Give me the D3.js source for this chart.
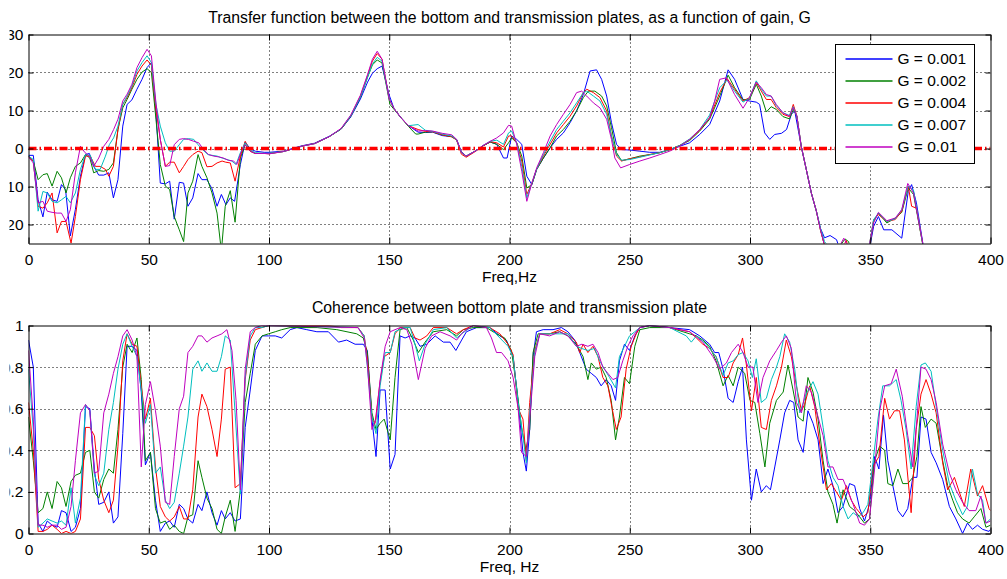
<!DOCTYPE html>
<html>
<head>
<meta charset="utf-8">
<script src="https://cdnjs.cloudflare.com/ajax/libs/d3/7.8.5/d3.min.js"></script>
<style>
    body { margin: 0; background: #fff; }
    svg { display: block; font-family: "Liberation Sans", Arial, Helvetica, sans-serif; }
    .axis text { font-family: "Liberation Sans", Arial, Helvetica, sans-serif; font-size: 15.5px; fill: #000; }
    .axis path, .axis line { stroke: #000; }
</style>
</head>
<body>
<svg id="chart" width="1007" height="579"></svg>
<script>
"use strict";

// ---- data ----------------------------------------------------------------

var freqTicks = [0, 50, 100, 150, 200, 250, 300, 350, 400],
    transferTicks = [-20, -10, 0, 10, 20, 30],
    coherenceTicks = [0, 0.2, 0.4, 0.6, 0.8, 1],
    gainLabels = ['G = 0.001', 'G = 0.002', 'G = 0.004', 'G = 0.007', 'G = 0.01'];

// transfer function (dB) vs frequency (Hz), one array per gain
var tfG001 = [[0,-1.8],[2,-1.8],[4,-13.5],[6,-18],[7.8,-11.5],[9.8,-13.5],[11.9,-13.9],[13.7,-9.5],[15.4,-10.8],[17.4,-23],[19.5,-16],[21.6,-7.3],[23.7,-1.6],[25.3,-1.3],[27.1,-4.7],[29.2,-7],[31.3,-7],[33.4,-6.4],[35.3,-13],[37.2,-8.2],[39.2,5.9],[41,11.6],[43,12.8],[45.1,15.6],[47.2,18.2],[49.3,21.3],[51.1,22.6],[53,9.4],[54.8,-9.1],[56.9,-9.3],[58.7,-8.6],[60.6,-18.6],[62.7,-8.9],[64.5,-9.1],[66.3,-15.2],[68.3,-13],[70.5,-6.6],[72.1,-8.2],[74.2,-8.2],[76.3,-10.6],[78.4,-15.2],[80.2,-12.1],[82.1,-14.8],[83.9,-13],[85.7,-13.9],[88.1,-4.2],[90.1,1.7],[92.2,-0.1],[94.3,-0.7],[98,-1],[100,-1],[106,-0.7],[113.6,0.7],[119,1.4],[125,3.2],[130,5.1],[134,8.3],[138,13],[141,17.5],[143,19.8],[145,21],[147,21.7],[150,14],[152,10.5],[155,8],[158,6],[162,4.3],[165,4.2],[168,4.3],[172,3.4],[176,3.1],[178,2.4],[180,-0.9],[182,-2],[186,-0.6],[189,0.7],[192,1.7],[194.7,1.1],[197.5,-2.5],[199,-2.5],[200.9,3.3],[203,2.4],[205.1,1.1],[207.2,-7.3],[209.3,-9.5],[211.3,-5.5],[214.1,-2.5],[216.9,0.2],[219.6,2.4],[222.4,4.1],[225.2,6.8],[227.9,9.9],[230.7,14.2],[233.5,20.4],[236.2,20.7],[238.3,18.2],[240.4,13.8],[242.4,6.8],[244.5,1.1],[246.6,-0.3],[250,-0.4],[254.2,-0.7],[258.3,-1],[262.5,-1],[266.6,-0.3],[270.8,0.6],[274.9,1.5],[279.1,3.7],[283.2,6.3],[287.4,12.5],[290.9,20.7],[293.6,18.2],[297.1,12.9],[299.8,12.5],[302.6,12.2],[304,11.6],[306.1,4.1],[308.2,2.4],[310.3,3.7],[313.1,4],[315.2,5],[317.2,9],[318.6,9.9],[321.3,0.6],[323.4,-5.5],[325.5,-11.7],[327.6,-16.5],[329.3,-21],[331,-23.5],[333.3,-22.9],[336,-24],[338,-28],[342,-30],[346,-30],[349.5,-27],[351.4,-20.5],[353.4,-17.9],[355.6,-21.4],[359,-21.4],[363.1,-23.6],[365.8,-11.3],[367.2,-9.5],[369.2,-14.3],[372,-25.5],[375,-35],[400,-40]];

var tfG002 = [[0,-2],[2,-3.3],[4,-8.2],[6,-6.9],[7.8,-6.6],[9.8,-9.9],[11.9,-6],[13.7,-7.7],[15.6,-11.7],[17.4,-7.7],[19.5,-4.7],[21.6,-3.8],[23.7,-1.6],[25.5,-2.5],[27.1,-6.4],[29.2,-5.8],[31.3,-6],[33.4,-5.5],[35.3,-3.8],[37.2,5],[39.2,10.7],[41,12.9],[43,15.6],[45.1,18.2],[47.2,20.1],[49.3,21],[51.1,20],[53,7.7],[54.8,-4.2],[56.9,-9.9],[58.7,-10.8],[60.6,-17.9],[62.7,-21.4],[64.5,-24.5],[66.3,-11.7],[68.3,-8.6],[70.5,-1.6],[72.1,-4.7],[74.2,-7.7],[76.3,-11.7],[78.4,-17],[80.2,-27],[81.8,-15.2],[83.9,-11.1],[85.9,-19.4],[88.1,-2.5],[90.1,1],[92.2,-0.7],[94.3,-1.3],[98,-1.3],[100,-1.3],[106,-0.8],[113.6,0.6],[119,1.3],[125,3.1],[130,5.1],[134,8.5],[138,13.5],[141,18.8],[143,22],[145,23.3],[147,22.5],[150.3,11.6],[152,10.3],[155,8],[158,5.8],[161,3.8],[162,3.8],[165,4.3],[168,4.4],[172,3.6],[176,3.1],[178,2.3],[180,-1],[182,-2],[186,-0.6],[189,0.7],[192,1.7],[194.7,1.1],[197.5,-0.3],[199.6,1.5],[200.9,2.8],[203,1.5],[205.1,-2],[207.2,-10.4],[209.3,-9.5],[211.3,-5.5],[214.1,-2.5],[216.9,0.2],[219.6,3.3],[222.4,5],[225.2,7.2],[227.9,9.9],[230.7,13.4],[232.8,15.1],[235.5,15.1],[238.3,13.8],[240.4,11.2],[242.4,5.5],[244.5,-1.1],[246.6,-3.2],[250,-2.7],[254.2,-2],[258.3,-1.6],[262.5,-1.1],[266.6,-0.3],[270.8,0.8],[274.9,2.1],[279.1,4.6],[283.2,7.7],[287.4,13.8],[290.9,19.3],[293.6,16],[297.1,12.8],[299.8,12.9],[302.6,16.9],[304.7,13.8],[306.8,9.6],[308.8,11],[310.9,10.3],[313.7,8.4],[316.4,7.8],[318,10.3],[319.5,8.5],[321.3,0.6],[323.4,-5.5],[325.5,-11.7],[327.6,-16.5],[329.3,-21.4],[331,-25.5],[334,-28],[337,-26],[339.5,-23.8],[341,-24.5],[343,-30],[347,-31],[350,-25],[351.4,-19.2],[353.4,-17],[356.9,-19.6],[360.4,-18.3],[363.1,-16.8],[365.8,-10.4],[368,-12.1],[372,-25.8],[375,-35],[400,-40]];

var tfG004 = [[0,-2],[2,-3.3],[4,-15.2],[6,-15.7],[7.8,-14.3],[9.8,-11.7],[11.9,-22.2],[13.7,-19.2],[15.6,-19.2],[17.7,-24.9],[19.5,-17.9],[21.6,-8.2],[23.7,-2],[25.7,-2],[27.8,-4.7],[29.8,-4.7],[32,-5.5],[33.4,-7.3],[35.3,-4.7],[37.2,5],[39.2,11.6],[41,13.4],[43,16],[45.1,19.5],[47.2,21.7],[49.3,23.3],[51.1,21.9],[53,10.3],[54.8,2.4],[56.9,-4.7],[58.7,-3.6],[60.6,-3.6],[62.7,-6.4],[64.5,-4.7],[66.3,-2.9],[68.3,-1.6],[70.5,-0.7],[72.1,-1.1],[74.2,-4.8],[76.3,-4.7],[78.4,-3.8],[80.5,-3.3],[82,-3.6],[83.9,-3.8],[85.9,-8.6],[88.1,-2],[90.1,1.9],[92.2,-0.7],[94.3,-1.3],[98,-1.3],[100,-1.4],[106,-0.8],[113.6,0.6],[119,1.3],[125,3.1],[130,5.2],[134,8.6],[138,13.8],[141,19.2],[143,23],[145,25],[147,23.5],[150,13],[152,10.5],[155,8],[158,6],[162,5],[165,4.5],[168,4.4],[172,3.6],[176,3.1],[178,2.2],[180,-1.5],[182,-2.3],[186,-0.7],[189,0.7],[192,1.8],[194.7,1.5],[197.5,0.4],[199.6,3.3],[200.9,3.3],[203,1.5],[205.1,-3.3],[207.2,-12.1],[209.3,-9.1],[211.3,-5.4],[214.1,-2],[216.9,1.1],[219.6,4.1],[222.4,6.3],[225.2,8.5],[227.9,11.2],[230.7,14.7],[232.1,15.6],[234.9,14.7],[237.6,13.4],[240.4,9.9],[242.4,3.3],[244.5,-2],[246.6,-3.3],[250,-2.7],[254.2,-2.2],[258.3,-1.6],[262.5,-1.1],[266.6,-0.3],[270.8,0.8],[274.9,2.4],[279.1,4.8],[283.2,8.1],[287.4,14.7],[290.5,18.4],[293.6,15.6],[297.1,12.5],[299.8,13.4],[302.6,17.4],[304.7,15.1],[306.8,12.9],[308.8,12.9],[310.9,10.8],[313.7,9],[316.4,8.4],[318,11.6],[319.5,8.5],[321.3,0.6],[323.4,-5.5],[325.5,-11.7],[327.6,-16.5],[329.3,-21.4],[331,-25.5],[334,-28],[338,-27],[340,-24.2],[342,-28],[346,-31],[349.5,-26],[351.4,-18.7],[353.4,-17.4],[356.9,-19.2],[360.4,-18.7],[363.1,-16.5],[365.8,-9.9],[367.2,-15.2],[369.2,-15.7],[372,-25.8],[375,-35],[400,-40]];

var tfG007 = [[0,-2],[2,-2.9],[4,-16.5],[6,-11.3],[7.8,-11.7],[9.8,-13.9],[11.9,-14.3],[13.7,-13.5],[15.6,-12.6],[17.4,-14.3],[19.5,-11.7],[21.6,-5.5],[23.7,-1.6],[25.7,-1.8],[27.8,-5.5],[29.8,-5.5],[32,-2],[33.6,1],[35.4,2.8],[37.2,5.9],[39.2,11.6],[41,13.8],[43,16.4],[45.1,20.4],[47.2,22.6],[49.3,24.4],[51.1,22.6],[53,11.6],[54.8,5.9],[56.9,1.5],[58.7,-0.7],[60.6,-0.7],[62.7,1],[64.5,2.4],[66.5,2.6],[68.7,2.4],[70.5,1],[72.4,-0.3],[74.6,-1.6],[76.3,-1.8],[78.4,-2],[80.5,-2.5],[82.5,-2.9],[84.5,-3.3],[86.3,-4.2],[88.1,-1.1],[90.1,1.5],[92.2,-0.4],[94.3,-1.1],[98,-1.3],[100,-1.3],[106,-0.8],[113.6,0.6],[119,1.3],[125,3.1],[130,5.2],[134,8.6],[138,13.6],[141,18.8],[143,22.2],[145,24],[147,23],[150,13],[152,10.5],[155,8],[158,6],[162,6.3],[165,4.8],[168,4.5],[172,3.8],[176,3.3],[178,2.3],[180,-1.1],[182,-2],[186,-0.6],[189,0.8],[192,1.9],[194.7,2.2],[197.5,1.1],[199.6,4.1],[200.9,4.6],[203,1.5],[205.1,-4.7],[207.2,-13],[209.3,-9.1],[211.3,-5.4],[214.1,-1.6],[216.9,1.9],[219.6,5],[222.4,7.2],[225.2,9.4],[227.9,12],[230.7,14.7],[232.1,15.1],[234.9,13.8],[237.6,12.5],[240.4,9],[242.4,3.3],[244.5,-1.6],[246.6,-3.1],[250,-2.9],[254.2,-2.3],[258.3,-1.7],[262.5,-1.1],[266.6,-0.3],[270.8,0.8],[274.9,2.5],[279.1,5],[283.2,8.8],[287.4,16],[290.5,18],[293.6,15.1],[297.1,12.2],[299.8,13.3],[302.6,17.8],[304.7,15.6],[306.8,13.8],[308.8,13.8],[310.9,11.3],[313.7,9.4],[316.4,8.7],[318,11],[319.5,8.5],[321.3,0.6],[323.4,-5.5],[325.5,-11.7],[327.6,-16.5],[329.3,-21],[331,-24.5],[334,-27],[338,-28],[341,-30],[346,-31],[349.5,-26],[351.4,-18.7],[353.4,-17],[356.9,-19.2],[360.4,-18.5],[363.1,-16.1],[365.8,-9.9],[368,-11],[372,-25.8],[375,-35],[400,-40]];

var tfG010 = [[0,-2.2],[2,-3.8],[4,-14.3],[6,-13.9],[7.8,-16.5],[9.8,-16.8],[11.9,-17],[13.7,-17],[15.6,-19.2],[17.4,-16.1],[19.5,-6.4],[21.6,0.6],[23.5,-1.1],[25.3,-2],[27.1,-4.7],[29.2,-2.5],[31.3,0.6],[33.4,2.4],[35.4,5],[37.2,7.7],[39.2,12.5],[41,14.3],[43,16.9],[45.1,21.3],[47.2,23.9],[49.3,26.1],[51.1,24.4],[53,12],[54.8,2.4],[56.9,-4.7],[58.7,-4.5],[60.6,1],[62.7,2.4],[64.5,2.6],[66.5,2.4],[68.7,1.9],[70.8,1.5],[72.8,-0.3],[74.9,-1.6],[77,-2],[79,-2.2],[81,-2.5],[83.1,-3.1],[85.3,-3.3],[86.6,-4.2],[88.3,-1.1],[90.1,1],[92.2,-0.7],[94.3,-1.3],[98,-1.3],[100,-1.4],[106,-0.8],[113.6,0.6],[119,1.3],[125,3.1],[130,5.3],[134,8.8],[138,14],[141,19.5],[143,23.5],[145,25.6],[147,23.5],[150,13],[152,10.5],[155,8],[158,6],[162,4.6],[165,4.7],[168,4.6],[172,4],[176,3.6],[178,2.4],[180,-1],[182,-2],[186,-0.6],[189,0.8],[192,1.9],[194.7,2.8],[197.5,4.1],[199.6,6.1],[200.9,5.9],[203,1.1],[205.1,-6],[207.2,-13.9],[209.3,-9.1],[211.3,-5.1],[214.1,-1.1],[216.9,3.3],[219.6,6.3],[222.4,9],[225.2,11.6],[227.9,14.7],[230,15.1],[232.1,13.8],[234.9,12],[237.6,10.7],[240.4,7.7],[242.4,2.4],[243.8,-2.5],[246.2,-5.1],[250,-4.2],[254.2,-3.3],[258.3,-2.5],[262.5,-1.6],[266.6,-0.7],[270.8,0.6],[274.9,2.4],[279.1,5],[283.2,8.1],[285.3,12.5],[287.4,18.2],[290.2,18.6],[293.6,14.2],[297.1,10.6],[299.8,13.4],[302.6,17.5],[304.7,16],[306.8,14.2],[308.8,13.8],[310.9,11.6],[313.7,9.4],[316.4,8.5],[318,10.8],[319.5,8.5],[321.3,0.6],[323.4,-5.5],[325.5,-11.7],[327.6,-16.5],[329.3,-21.4],[331,-25.5],[334,-28],[337,-26],[339,-23.6],[341,-26],[344,-31],[349.5,-26],[351.4,-19.6],[353.4,-16.8],[356.9,-19],[360.4,-18.3],[363.1,-16.1],[365.6,-9.2],[368,-11.7],[372.1,-25.8],[375,-35],[400,-40]];

// coherence (0..1) vs frequency (Hz), one array per gain
var cohG001 = [[0,0.93],[2,0.8],[4,0.05],[6,0.01],[7.8,0.06],[9.8,0.04],[11.9,0.03],[13.7,0.11],[15.6,0.1],[17.7,0.01],[19.5,0.03],[21.6,0.12],[23.7,0.61],[25.5,0.6],[27.4,0.31],[29.2,0.14],[31.3,0.15],[33.4,0.2],[35.3,0.05],[37.2,0.08],[39.2,0.48],[41,0.9],[43.1,0.9],[45.1,0.88],[46.9,0.68],[48.6,0.33],[50.7,0.39],[52.8,0.16],[54.8,0.01],[56.9,0.05],[58.7,0.06],[60.6,0.03],[62.7,0.14],[64.5,0.12],[66.3,0.07],[68.3,0.05],[70.5,0.14],[72.1,0.11],[74.2,0.2],[76.3,0.1],[78.4,0.04],[80.2,0.11],[81.8,0.07],[83.9,0.1],[85.9,0.06],[88.1,0.07],[90.1,0.51],[92.2,0.69],[94.3,0.88],[97.1,0.95],[99.8,0.95],[102.6,0.95],[105.3,0.94],[108.8,0.98],[111.6,0.99],[115.7,0.98],[119.9,0.97],[124.7,0.97],[128.9,0.92],[132.3,0.93],[135.8,0.91],[139.2,0.91],[140.9,0.88],[142.8,0.55],[144.5,0.37],[146.2,0.69],[148.3,0.69],[150.4,0.31],[152.4,0.38],[154.5,0.95],[156.6,0.94],[158.7,0.95],[160.7,0.94],[162.8,0.9],[165.6,0.91],[169.1,0.95],[172.5,0.92],[175.3,0.92],[177.7,0.88],[180.1,0.93],[182.1,0.97],[186.3,0.99],[191.8,0.99],[196,0.95],[198.7,0.93],[201.5,0.85],[203.6,0.63],[205.6,0.39],[207,0.3],[208.4,0.5],[209.8,0.85],[211.2,0.97],[214,0.98],[218.1,0.98],[221.6,0.99],[224.3,0.97],[227.1,0.93],[229.2,0.87],[231.9,0.79],[234,0.77],[236.1,0.75],[238.1,0.71],[240.2,0.74],[242.3,0.71],[244.1,0.64],[245.7,0.83],[247.8,0.91],[249.9,0.88],[252.1,0.95],[254.2,0.99],[258.3,1],[266.6,0.99],[274.9,0.98],[279.1,0.95],[283.2,0.91],[285.3,0.87],[287,0.87],[288.8,0.79],[290.9,0.65],[293,0.63],[295.1,0.73],[296.9,0.8],[298.5,0.45],[300.6,0.16],[302.6,0.31],[304.7,0.2],[306.8,0.23],[308.5,0.21],[310.3,0.32],[312.4,0.45],[314.4,0.58],[316.5,0.64],[318.2,0.63],[320,0.45],[322.1,0.39],[324.1,0.59],[326.2,0.53],[328.3,0.45],[330.4,0.24],[332.4,0.31],[334.5,0.23],[336.6,0.1],[338.7,0.13],[341.4,0.24],[343.5,0.23],[345.6,0.12],[347.6,0.06],[349.7,0.14],[351.8,0.37],[353.6,0.31],[355.5,0.57],[357.3,0.35],[359.4,0.23],[361.5,0.11],[363.5,0.08],[365.6,0.12],[367.7,0.27],[369.4,0.27],[371.1,0.56],[373.2,0.55],[375.3,0.39],[377.4,0.34],[380.1,0.26],[382.9,0.13],[385.6,0.07],[388.4,0],[390.4,0.05],[392.5,0.02],[394.6,0.04],[396.7,0.02],[399.4,0.01],[400,0.02]];

var cohG002 = [[0,0.56],[2,0.35],[4,0.1],[6,0.12],[7.8,0.2],[9.8,0.12],[11.9,0.25],[13.7,0.22],[15.6,0.13],[17.7,0.25],[19.5,0.28],[21.6,0.29],[23.7,0.39],[25.5,0.4],[27.4,0.2],[29.2,0.17],[31.3,0.26],[33.4,0.31],[35.3,0.29],[37.2,0.5],[39.2,0.8],[41,0.91],[43.1,0.87],[45.1,0.94],[46.9,0.74],[48.6,0.35],[50.7,0.39],[52.8,0.12],[54.8,0.05],[56.9,0.06],[58.7,0.02],[60.6,0.04],[62.7,0.01],[64.5,0],[66.3,0.08],[68.3,0.09],[70.5,0.35],[72.1,0.27],[74.2,0.17],[76.3,0.12],[78.4,0.02],[80.2,0],[81.8,0.08],[83.9,0.16],[85.9,0.01],[88.1,0.21],[90.1,0.63],[92.2,0.77],[94.3,0.91],[97.1,0.95],[99.8,0.96],[102.6,0.97],[105.3,0.98],[108.8,0.99],[120,0.99],[128.2,0.98],[136.5,0.96],[139.2,0.94],[140.9,0.87],[142.8,0.58],[144.5,0.5],[146.2,0.53],[147.9,0.55],[150.4,0.45],[152.4,0.75],[154.5,0.98],[157.3,0.99],[160,0.93],[162.1,0.87],[164.9,0.92],[168.3,0.97],[173.9,0.98],[178,0.95],[180.8,0.98],[184.9,0.99],[190.4,0.99],[194.6,0.96],[198,0.94],[200.8,0.88],[202.9,0.71],[205,0.51],[206.8,0.4],[208.4,0.5],[209.8,0.87],[211.9,0.96],[216.7,0.96],[220.9,0.97],[224.3,0.95],[227.8,0.91],[230.6,0.85],[232.6,0.74],[234,0.82],[236.1,0.79],[238.1,0.8],[240.2,0.75],[242.3,0.64],[244.1,0.45],[245.7,0.56],[247.8,0.75],[249.9,0.72],[252.1,0.9],[254.2,0.98],[258.3,0.99],[266.6,0.99],[272.1,0.97],[274.9,0.96],[277.7,0.95],[280.4,0.93],[283.2,0.9],[285.9,0.83],[288.8,0.71],[290.9,0.76],[293,0.71],[295.1,0.8],[297.8,0.77],[300,0.64],[302,0.63],[304.1,0.48],[306.2,0.32],[308.2,0.53],[311,0.64],[313.8,0.68],[315.8,0.81],[317.9,0.69],[320,0.56],[322.1,0.54],[324.1,0.75],[326.2,0.68],[328.3,0.55],[330.4,0.35],[332.4,0.2],[334.5,0.14],[336.2,0.05],[338.7,0.21],[341.4,0.13],[343.5,0.11],[345.6,0.08],[347.6,0.05],[349.7,0.07],[351.8,0.35],[353.9,0.42],[356,0.4],[357.3,0.24],[359.4,0.23],[361.5,0.31],[363.5,0.24],[365.6,0.24],[367.7,0.27],[369.4,0.37],[371.1,0.61],[372.9,0.51],[375.3,0.55],[377.4,0.53],[380.1,0.35],[382.2,0.23],[384.3,0.16],[386.3,0.1],[388.4,0.07],[391.1,0.05],[393.2,0.08],[396,0.12],[398.1,0.03],[400,0.04]];

var cohG004 = [[0,0.63],[2,0.4],[4,0.01],[6,0.01],[7.8,0.02],[9.8,0.04],[11.9,0.02],[13.7,0],[15.6,0.01],[17.7,0],[19.5,0.01],[21.6,0.07],[23.7,0.51],[25.5,0.51],[27.4,0.47],[29.2,0.26],[31.3,0.16],[33.4,0.1],[35.3,0.16],[37.2,0.42],[39.2,0.83],[41,0.96],[43.1,0.91],[45.1,0.9],[46.9,0.71],[48.6,0.55],[50.7,0.65],[52.8,0.32],[54.8,0.13],[56.9,0.08],[58.7,0.06],[60.6,0.08],[62.7,0.13],[64.5,0.07],[66.3,0.07],[68.3,0.21],[70.5,0.56],[72.1,0.67],[74.2,0.61],[76.3,0.5],[78.4,0.37],[80.2,0.55],[81.8,0.79],[83.9,0.8],[85.9,0.22],[88.1,0.24],[90.1,0.74],[92.2,0.93],[94.3,0.98],[97,0.99],[100,1],[125,1],[130,0.99],[137,0.99],[139.6,0.95],[141,0.83],[142.8,0.55],[144.1,0.53],[146.2,0.73],[147.9,0.85],[150.4,0.87],[152.4,0.96],[154.5,0.99],[158.7,0.99],[160.7,0.94],[162.8,0.93],[165.6,0.95],[168.3,0.99],[173.9,0.99],[178,0.96],[180.8,0.98],[184.9,1],[191.8,0.99],[196,0.96],[199.4,0.91],[201.5,0.86],[203.6,0.6],[205.6,0.55],[207,0.35],[208.4,0.63],[210.5,0.88],[212.6,0.96],[216.7,0.96],[220.9,0.98],[224.3,0.96],[227.8,0.92],[229.2,0.87],[230.6,0.91],[232.6,0.87],[234.7,0.9],[236.8,0.85],[238.8,0.75],[240.9,0.71],[242.7,0.6],[244.4,0.5],[246.4,0.56],[248.5,0.79],[250.6,0.9],[252.7,0.96],[254.2,0.99],[258.3,1],[266.6,0.99],[274.9,0.97],[277.7,0.94],[280.4,0.91],[283.2,0.89],[285.9,0.85],[288.8,0.75],[290.9,0.75],[293,0.82],[295.1,0.86],[296.9,0.94],[298.5,0.81],[300.6,0.59],[302.6,0.75],[304.7,0.51],[306.8,0.5],[308.9,0.64],[311,0.71],[313.1,0.8],[315.1,0.93],[317.2,0.85],[319.3,0.71],[321.4,0.59],[322.7,0.62],[324.8,0.71],[326.9,0.61],[329,0.43],[331.8,0.21],[333.8,0.24],[335.9,0.2],[338,0.16],[340.1,0.23],[342.1,0.16],[344.2,0.12],[347,0.08],[349,0.1],[351.1,0.32],[353.6,0.37],[356,0.65],[358,0.55],[360.1,0.59],[362.2,0.59],[364.2,0.45],[367,0.1],[369.1,0.5],[371.1,0.67],[373.2,0.74],[375.3,0.67],[377.4,0.58],[380.1,0.34],[382.2,0.21],[385,0.27],[387,0.2],[389.1,0.13],[391.8,0.31],[394.6,0.18],[396.7,0.23],[399.4,0.12],[400,0.11]];

var cohG007 = [[0,0.79],[2,0.5],[4,0.03],[6,0.05],[7.8,0.07],[9.8,0.06],[11.9,0.05],[13.7,0.06],[15.6,0.04],[17.7,0.22],[19.5,0.05],[21.6,0.17],[23.7,0.62],[25.5,0.59],[27.4,0.28],[29.2,0.23],[31.3,0.29],[33.4,0.5],[35.3,0.63],[37.2,0.79],[39.2,0.91],[41,0.96],[43.1,0.9],[45.1,0.85],[46.9,0.69],[48.6,0.53],[50.7,0.62],[52.8,0.29],[54.8,0.32],[56.9,0.16],[58.7,0.12],[60.6,0.15],[62.7,0.29],[64.5,0.42],[66.3,0.56],[68.3,0.79],[70.5,0.83],[72.1,0.78],[74.2,0.82],[76.3,0.78],[78.4,0.78],[80.2,0.85],[81.8,0.95],[83.9,0.93],[85.9,0.58],[88.1,0.19],[90.1,0.75],[92.2,0.95],[94.3,0.99],[97,0.99],[100,1],[137,0.99],[139.6,0.95],[141,0.79],[142.8,0.56],[144.5,0.48],[146.2,0.71],[148.3,0.87],[150.4,0.87],[152.4,0.97],[155.9,0.99],[158.7,0.99],[160.7,0.91],[162.5,0.83],[164.9,0.91],[168.3,0.98],[173.9,0.99],[178,0.94],[180.1,0.96],[184.9,1],[191.8,0.99],[196,0.94],[199.4,0.9],[201.5,0.85],[203.6,0.63],[205.6,0.47],[207,0.34],[208.4,0.58],[210.5,0.87],[212.6,0.96],[216.7,0.96],[220.9,0.96],[224.3,0.96],[227.8,0.9],[229.9,0.89],[232.6,0.88],[235.4,0.89],[237.5,0.83],[239.5,0.79],[241.6,0.75],[244.1,0.7],[245.7,0.85],[247.8,0.9],[249.9,0.95],[252.1,0.97],[254.2,0.99],[258.3,1],[266.6,0.99],[270,0.97],[273.5,0.95],[275.6,0.92],[277.7,0.95],[281.8,0.91],[285.9,0.85],[288.8,0.76],[290.9,0.82],[293,0.83],[295.1,0.86],[297.1,0.87],[299.2,0.83],[301,0.75],[302.6,0.84],[304.7,0.63],[306.8,0.65],[308.9,0.74],[311,0.8],[312.4,0.85],[314.4,0.96],[316.5,0.92],[318.6,0.79],[320.7,0.58],[323.4,0.67],[326.2,0.73],[328.3,0.67],[330.4,0.51],[332.4,0.35],[334.5,0.27],[336.6,0.23],[338.7,0.13],[340.8,0.07],[342.9,0.1],[345,0.08],[347,0.1],[349,0.14],[351.1,0.34],[353.2,0.55],[355.2,0.71],[358,0.71],[360.8,0.74],[362.8,0.64],[364.9,0.5],[367,0.31],[369.1,0.61],[371.1,0.81],[372.9,0.82],[375.3,0.78],[377.4,0.61],[380.1,0.4],[382.9,0.24],[385.6,0.16],[388.4,0.09],[390.4,0.13],[392.5,0.31],[394.6,0.19],[396.7,0.16],[398.1,0.05],[400,0.07]];

var cohG010 = [[0,0.88],[2,0.55],[4,0.04],[6,0.04],[7.8,0.03],[9.8,0.04],[11.9,0.04],[13.7,0.02],[15.6,0.03],[17.7,0.13],[19.5,0.35],[21.6,0.58],[23.7,0.62],[25.5,0.59],[27.4,0.29],[29.2,0.3],[31.3,0.58],[33.4,0.67],[35.3,0.77],[37.2,0.85],[39.2,0.95],[41,0.98],[43.1,0.93],[45.1,0.85],[46.9,0.32],[48.6,0.62],[50.7,0.73],[52.8,0.59],[54.8,0.42],[56.9,0.15],[58.7,0.14],[60.6,0.37],[62.7,0.6],[64.5,0.66],[66.3,0.87],[68.3,0.9],[70.5,0.95],[72.1,0.95],[74.2,0.92],[76.3,0.94],[78.4,0.95],[80.4,0.96],[82.5,0.98],[84.6,0.88],[86.3,0.64],[88.1,0.21],[90.1,0.79],[92.2,0.97],[94.3,0.99],[97,1],[137,0.99],[139.6,0.94],[141,0.8],[142.8,0.5],[144.5,0.55],[146.2,0.74],[148.3,0.9],[150.4,0.97],[152.4,0.98],[154.5,0.99],[157.3,0.98],[159.4,0.91],[162.1,0.74],[164.9,0.89],[167.6,0.95],[171.1,0.97],[175.3,0.95],[178,0.93],[180.8,0.97],[184.9,1],[190.4,0.99],[192.5,0.94],[194.6,0.87],[196.7,0.87],[199.4,0.83],[201.5,0.75],[203.6,0.6],[205,0.39],[207,0.37],[208.4,0.55],[210.5,0.85],[212.6,0.96],[216.7,0.95],[220.9,0.97],[224.3,0.95],[227.8,0.9],[230.1,0.91],[232.6,0.9],[234.7,0.91],[236.8,0.87],[238.8,0.8],[240.9,0.77],[243,0.74],[245,0.75],[247.1,0.83],[249.2,0.9],[251.3,0.95],[254.2,0.99],[258.3,1],[266.6,0.99],[274.9,0.97],[280.4,0.92],[284.6,0.85],[287.4,0.79],[290.2,0.82],[292.3,0.87],[295.1,0.91],[297.1,0.87],[299.2,0.8],[301.2,0.8],[303.3,0.63],[305.4,0.75],[308.2,0.83],[311,0.88],[313.1,0.92],[315.1,0.95],[317.2,0.89],[319.3,0.63],[321.4,0.58],[323.4,0.71],[325.5,0.68],[327.6,0.59],[330.4,0.47],[332.4,0.32],[334.5,0.32],[336.6,0.26],[338.7,0.26],[340.8,0.2],[342.9,0.14],[345.6,0.05],[347.6,0.04],[349.7,0.07],[351.8,0.31],[353.9,0.59],[356,0.71],[358.7,0.72],[360.8,0.79],[363.3,0.66],[365.6,0.47],[367.7,0.32],[369.4,0.55],[371.1,0.8],[373.2,0.79],[375.3,0.74],[377.4,0.63],[380.1,0.43],[382.9,0.29],[385.6,0.21],[388.4,0.15],[391.1,0.11],[393.9,0.11],[396,0.18],[398.1,0.05],[400,0.06]];

// ---- drawing ---------------------------------------------------------------

var svg = d3.select('#chart'),
    plotLeft = 28.5,
    plotRight = 990.5,
    lineColors = ['#0000ff', '#008000', '#ff0000', '#00bfbf', '#bf00bf'],
    fmt = function (d) { return String(+d.toFixed(1)); };

// the original figure was cropped on the left, so tick labels lose their
// first few pixels; keep that with a clip instead of changing the text
svg.append('clipPath').attr('id', 'label-clip')
    .append('rect').attr('x', 9.5).attr('y', 0).attr('width', 1000).attr('height', 579);

/**
 * Draws one MATLAB-style axes box with dotted grid, inward ticks and the
 * five gain curves clipped to the box.
 */
var drawPanel = function (opts) {
    var x = d3.scaleLinear().domain([0, 400]).range([plotLeft, plotRight]),
        y = d3.scaleLinear().domain(opts.yDomain).range([opts.bottom, opts.top]),
        g = svg.append('g'),
        line = d3.line().x(function (d) { return x(d[0]); }).y(function (d) { return y(d[1]); }),
        inner;

    svg.append('clipPath').attr('id', opts.name + '-clip')
        .append('rect')
        .attr('x', plotLeft).attr('y', opts.top)
        .attr('width', plotRight - plotLeft).attr('height', opts.bottom - opts.top);

    // dotted grid
    g.append('g').selectAll('line')
        .data(freqTicks.filter(function (d) { return d > 0 && d < 400; }))
        .join('line')
        .attr('x1', function (d) { return Math.round(x(d)) + 0.5; })
        .attr('x2', function (d) { return Math.round(x(d)) + 0.5; })
        .attr('y1', opts.top).attr('y2', opts.bottom)
        .attr('stroke', '#000').attr('stroke-width', 1).attr('stroke-dasharray', '1,3');
    g.append('g').selectAll('line')
        .data(opts.yTicks.filter(function (d) { return d > opts.yDomain[0] && d < opts.yDomain[1]; }))
        .join('line')
        .attr('x1', plotLeft).attr('x2', plotRight)
        .attr('y1', function (d) { return Math.round(y(d)) + 0.5; })
        .attr('y2', function (d) { return Math.round(y(d)) + 0.5; })
        .attr('stroke', '#000').attr('stroke-width', 1).attr('stroke-dasharray', '1,3');

    // curves
    inner = g.append('g').attr('clip-path', 'url(#' + opts.name + '-clip)');
    inner.selectAll('path.curve')
        .data(opts.series)
        .join('path')
        .attr('class', 'curve')
        .attr('d', line)
        .attr('fill', 'none')
        .attr('stroke', function (d, i) { return lineColors[i]; })
        .attr('stroke-width', 1);

    if (opts.refLine) {
        inner.append('line')
            .attr('x1', plotLeft).attr('x2', plotRight)
            .attr('y1', y(0)).attr('y2', y(0))
            .attr('stroke', '#ff0000').attr('stroke-width', 3.5)
            .attr('stroke-dasharray', '8,3,1.5,3');
    }

    // axes box with inward ticks
    g.append('g').attr('class', 'axis')
        .attr('transform', 'translate(0,' + opts.bottom + ')')
        .call(d3.axisBottom(x).tickValues(freqTicks).tickSizeInner(-6).tickSizeOuter(0).tickPadding(10));
    g.append('g').attr('class', 'axis')
        .attr('transform', 'translate(0,' + opts.top + ')')
        .call(d3.axisTop(x).tickValues(freqTicks).tickFormat('').tickSizeInner(-6).tickSizeOuter(0));
    g.append('g').attr('clip-path', 'url(#label-clip)')
        .append('g').attr('class', 'axis')
        .attr('transform', 'translate(' + plotLeft + ',0)')
        .call(d3.axisLeft(y).tickValues(opts.yTicks).tickFormat(fmt).tickSizeInner(-5).tickSizeOuter(0).tickPadding(5));
    g.append('g').attr('class', 'axis')
        .attr('transform', 'translate(' + plotRight + ',0)')
        .call(d3.axisRight(y).tickValues(opts.yTicks).tickFormat('').tickSizeInner(-5).tickSizeOuter(0));

    g.append('text')
        .attr('x', (plotLeft + plotRight) / 2).attr('y', opts.titleY)
        .attr('text-anchor', 'middle').attr('font-size', '15.8px')
        .text(opts.title);
    g.append('text')
        .attr('x', (plotLeft + plotRight) / 2).attr('y', opts.labelY)
        .attr('text-anchor', 'middle').attr('font-size', '15.5px')
        .text(opts.xLabel);

    return g;
};

var topPanel = drawPanel({
    name: 'transfer',
    top: 34.5,
    bottom: 243.5,
    yDomain: [-25, 30],
    yTicks: transferTicks,
    series: [tfG001, tfG002, tfG004, tfG007, tfG010],
    refLine: true,
    title: 'Transfer function between the bottom and transmission plates, as a function of gain, G',
    titleY: 23,
    xLabel: 'Freq,Hz',
    labelY: 282
});

drawPanel({
    name: 'coherence',
    top: 325.5,
    bottom: 533.5,
    yDomain: [0, 1],
    yTicks: coherenceTicks,
    series: [cohG001, cohG002, cohG004, cohG007, cohG010],
    refLine: false,
    title: 'Coherence between bottom plate and transmission plate',
    titleY: 313,
    xLabel: 'Freq, Hz',
    labelY: 572
});

// legend in the upper right of the transfer function panel
var legend = topPanel.append('g').attr('transform', 'translate(835.5,44.5)');
legend.append('rect')
    .attr('width', 139).attr('height', 119)
    .attr('fill', '#fff').attr('stroke', '#000').attr('stroke-width', 1);
var rows = legend.selectAll('g.row')
    .data(gainLabels)
    .join('g')
    .attr('class', 'row')
    .attr('transform', function (d, i) { return 'translate(0,' + (14.5 + i * 22) + ')'; });
rows.each(function (d, i) {
    var row = d3.select(this);
    row.append('line')
        .attr('x1', 10).attr('x2', 57).attr('y1', 0).attr('y2', 0)
        .style('stroke', lineColors[i])
        .style('stroke-width', '1.3px');
    row.append('text')
        .attr('x', 62).attr('dy', '0.35em')
        .attr('font-size', '15.5px')
        .text(d);
});
</script>
</body>
</html>
